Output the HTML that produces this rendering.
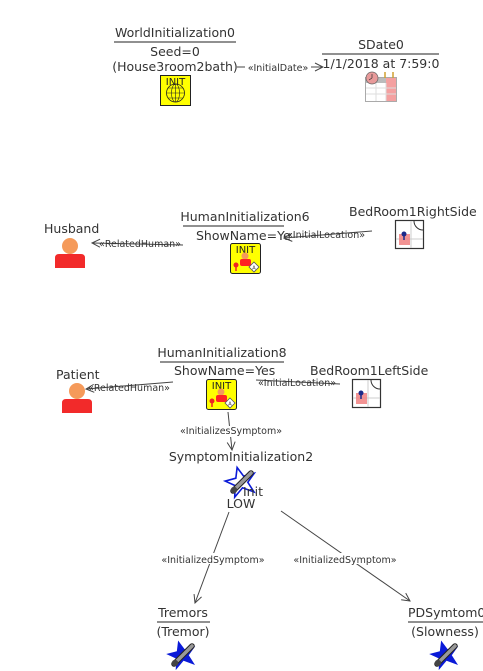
<!DOCTYPE html>
<html><head><meta charset="utf-8"><style>
html,body{margin:0;padding:0;background:#fff;}
svg{display:block;}
text{font-family:"DejaVu Sans","Liberation Sans",sans-serif;}
.t{font-size:12.5px;fill:#333;}
.s{font-size:9.5px;fill:#333;}
.l{stroke:#444;stroke-width:1;fill:none;}
</style></head><body>
<svg width="483" height="671" viewBox="0 0 483 671" xmlns="http://www.w3.org/2000/svg">
<defs>
<marker id="ar" markerWidth="10" markerHeight="10" refX="9" refY="5" orient="auto" markerUnits="userSpaceOnUse">
<path d="M1,1 L9,5 L1,9" fill="none" stroke="#444" stroke-width="1"/></marker>
<g id="hinit">
<rect x="0.5" y="0.5" width="30" height="30" rx="2" fill="#ffff00" stroke="#222"/>
<text x="15.5" y="10" font-size="10" text-anchor="middle" fill="#222">INIT</text>
<circle cx="15" cy="13" r="3.5" fill="#f59a5a"/>
<rect x="10" y="16" width="11" height="7" rx="2" fill="#f22"/>
<circle cx="6" cy="22" r="2.5" fill="#e22"/><path d="M6,22 L6,28" stroke="#e22" stroke-width="1.5"/>
<path d="M24,19 L29,24 L24,29 L19,24Z" fill="#fff" stroke="#555" stroke-width="0.8"/>
<text x="24" y="26.5" font-size="5" text-anchor="middle" fill="#333">A</text>
</g>
<g id="room">
<rect x="0.5" y="0.5" width="28" height="28" fill="#fff" stroke="#333" stroke-width="1.2"/>
<path d="M1,19 H28 M16,1 V28" stroke="#ccc" stroke-width="1"/>
<path d="M19,1 A9,9 0 0 0 28,10" fill="none" stroke="#333" stroke-width="1"/>
<rect x="4" y="14" width="11" height="11" fill="#f08080" opacity="0.85"/>
<circle cx="9" cy="14" r="2.5" fill="#1a2a8a"/><path d="M9,14 V20" stroke="#1a2a8a" stroke-width="1.5"/>
</g>
<path id="starp" d="M15,0 L19,10 L30,10 L21.5,17 L25,28 L15,21 L5,28 L8.5,17 L0,10 L11,10Z" transform="rotate(-15 15 15)"/>
<g id="therm">
<path d="M7,24 L25,6" stroke="#222" stroke-width="5.5" stroke-linecap="round"/>
<path d="M7,24 L25,6" stroke="#999" stroke-width="3.5" stroke-linecap="round"/>
<circle cx="8" cy="23" r="3.2" fill="#444"/>
</g>
<g id="star"><use href="#starp" fill="#0a1ad8"/><use href="#therm"/></g>
<g id="person">
<circle cx="15" cy="8" r="8" fill="#f59a5a"/>
<path d="M0,30 V20 Q0,16 4,16 H26 Q30,16 30,20 V30Z" fill="#f22a2a"/>
</g>
</defs>

<text class="t" x="175" y="37" text-anchor="middle">WorldInitialization0</text>
<line x1="114" y1="42" x2="236" y2="42" stroke="#222"/>
<text class="t" x="175" y="56" text-anchor="middle">Seed=0</text>
<text class="t" x="175" y="71" text-anchor="middle">(House3room2bath)</text>
<rect x="160.5" y="75.5" width="30" height="30" fill="#ffff00" stroke="#222"/>
<text x="175.5" y="85" font-size="10" text-anchor="middle" fill="#222">INIT</text>
<circle cx="175.5" cy="93" r="9" fill="none" stroke="#222" stroke-width="0.8"/>
<path d="M166.5,93 H184.5 M175.5,84 V102 M168,88 H183 M168,98 H183" stroke="#222" stroke-width="0.6"/>
<ellipse cx="175.5" cy="93" rx="4" ry="9" fill="none" stroke="#222" stroke-width="0.6"/>
<line class="l" x1="237" y1="67" x2="323" y2="67" marker-end="url(#ar)"/>
<rect x="245" y="62" width="66" height="11" fill="#fff"/>
<text class="s" x="278" y="71" text-anchor="middle">«InitialDate»</text>

<text class="t" x="381" y="49" text-anchor="middle">SDate0</text>
<line x1="322" y1="54" x2="439" y2="54" stroke="#222"/>
<text class="t" x="381" y="68" text-anchor="middle">1/1/2018 at 7:59:0</text>
<rect x="365.5" y="77.5" width="31" height="24" fill="#fff" stroke="#aaa"/>
<rect x="366" y="78" width="30" height="5" fill="#bbb"/>
<rect x="386" y="78" width="10" height="23" fill="#f4a0a0"/>
<path d="M366,88 H396 M366,94 H396 M376,83 V101 M386,83 V101" stroke="#ddd"/>
<circle cx="372" cy="78" r="6" fill="#e89a9a" stroke="#666" stroke-width="0.7"/>
<path d="M372,78 V74 M372,78 L369,80" stroke="#333" stroke-width="0.7"/>
<path d="M385,72 V78 M393,72 V78" stroke="#d0a030" stroke-width="1.5"/>

<text class="t" x="44" y="233">Husband</text>
<use href="#person" x="55" y="238"/>
<line class="l" x1="183" y1="245" x2="92" y2="243" marker-end="url(#ar)"/>
<text class="s" x="140" y="247" text-anchor="middle">«RelatedHuman»</text>
<text class="t" x="245" y="221" text-anchor="middle">HumanInitialization6</text>
<line x1="183" y1="226" x2="284" y2="226" stroke="#222"/>
<text class="t" x="196" y="240">ShowName=Ye</text>
<use href="#hinit" x="230" y="243"/>
<text class="t" x="349" y="216">BedRoom1RightSide</text>
<use href="#room" x="395" y="220"/>
<line class="l" x1="372" y1="231" x2="284" y2="238" marker-end="url(#ar)"/>
<text class="s" x="326" y="238" text-anchor="middle">«InitialLocation»</text>

<text class="t" x="56" y="379">Patient</text>
<use href="#person" x="62" y="383"/>
<line class="l" x1="173" y1="382" x2="86" y2="389" marker-end="url(#ar)"/>
<text class="s" x="129" y="391" text-anchor="middle">«RelatedHuman»</text>
<text class="t" x="222" y="357" text-anchor="middle">HumanInitialization8</text>
<line x1="160" y1="362" x2="284" y2="362" stroke="#222"/>
<text class="t" x="174" y="375">ShowName=Yes</text>
<use href="#hinit" x="206" y="379"/>
<text class="t" x="310" y="375">BedRoom1LeftSide</text>
<use href="#room" x="352" y="379"/>
<line class="l" x1="340" y1="384" x2="256" y2="380"/>
<text class="s" x="297" y="386" text-anchor="middle">«InitialLocation»</text>

<line class="l" x1="228" y1="412" x2="232" y2="450" marker-end="url(#ar)"/>
<rect x="178" y="426" width="108" height="11" fill="#fff"/>
<text class="s" x="231" y="434" text-anchor="middle">«InitializesSymptom»</text>
<text class="t" x="241" y="461" text-anchor="middle">SymptomInitialization2</text>
<g transform="translate(226,467)"><use href="#starp" fill="#fff" stroke="#0a1ad8" stroke-width="1.6"/><use href="#therm"/></g>
<text class="t" x="243" y="496" font-size="11">Init</text>
<text class="t" x="241" y="508" text-anchor="middle">LOW</text>

<line class="l" x1="229" y1="512" x2="195" y2="603" marker-end="url(#ar)"/>
<rect x="158" y="553" width="110" height="11" fill="#fff"/>
<text class="s" x="213" y="563" text-anchor="middle">«InitializedSymptom»</text>
<line class="l" x1="281" y1="511" x2="410" y2="601" marker-end="url(#ar)"/>
<rect x="290" y="553" width="110" height="11" fill="#fff"/>
<text class="s" x="345" y="563" text-anchor="middle">«InitializedSymptom»</text>

<text class="t" x="183" y="617" text-anchor="middle">Tremors</text>
<line x1="157" y1="622" x2="210" y2="622" stroke="#222"/>
<text class="t" x="183" y="636" text-anchor="middle">(Tremor)</text>
<use href="#star" x="167" y="640"/>

<text class="t" x="408" y="617">PDSymtom0</text>
<line x1="408" y1="622" x2="483" y2="622" stroke="#222"/>
<text class="t" x="445" y="636" text-anchor="middle">(Slowness)</text>
<use href="#star" x="430" y="640"/>
</svg>
</body></html>
